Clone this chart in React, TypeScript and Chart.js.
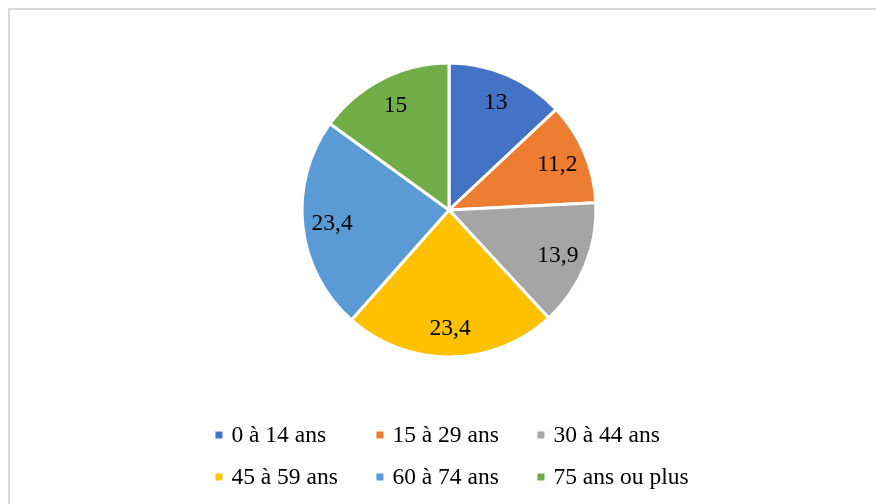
import React, { useEffect, useRef } from "react";
import { Chart, registerables } from "chart.js";

Chart.register(...registerables);

const categories: string[] = [
  "0 à 14 ans",
  "15 à 29 ans",
  "30 à 44 ans",
  "45 à 59 ans",
  "60 à 74 ans",
  "75 ans ou plus",
];
const values: number[] = [13, 11.2, 13.9, 23.4, 23.4, 15];
const colors: string[] = ["#4472C4", "#ED7D31", "#A5A5A5", "#FFC000", "#5B9BD5", "#70AD47"];

const FONT = "23.5px 'Liberation Serif', 'Times New Roman', serif";

const framePlugin = {
  id: "frame",
  beforeDraw(chart: any) {
    const ctx = chart.ctx;
    ctx.save();
    ctx.fillStyle = "#ffffff";
    ctx.fillRect(0, 0, chart.width, chart.height);
    ctx.strokeStyle = "#d9d9d9";
    ctx.lineWidth = 2;
    ctx.beginPath();
    ctx.moveTo(9, chart.height);
    ctx.lineTo(9, 9);
    ctx.lineTo(chart.width, 9);
    ctx.stroke();
    ctx.restore();
  },
};

const labelPlugin = {
  id: "sliceLabels",
  afterDatasetsDraw(chart: any) {
    const ctx = chart.ctx;
    const meta = chart.getDatasetMeta(0);
    ctx.save();
    ctx.font = FONT;
    ctx.fillStyle = "#000000";
    ctx.textAlign = "center";
    ctx.textBaseline = "middle";
    meta.data.forEach((arc: any, i: number) => {
      const { x, y, startAngle, endAngle, outerRadius } = arc.getProps(
        ["x", "y", "startAngle", "endAngle", "outerRadius"],
        true
      );
      const mid = (startAngle + endAngle) / 2;
      const r = outerRadius * 0.8;
      const txt = String(values[i]).replace(".", ",");
      ctx.fillText(txt, x + Math.cos(mid) * r, y + Math.sin(mid) * r + 1);
    });
    ctx.restore();
  },
};

const gridLegendPlugin = {
  id: "gridLegend",
  afterDraw(chart: any) {
    const ctx = chart.ctx;
    const meta = chart.getDatasetMeta(0);
    const cx = meta.data[0] ? meta.data[0].x : chart.width / 2;
    ctx.save();
    ctx.font = FONT;
    const widths = categories.map((c) => ctx.measureText(c).width);
    const maxW = Math.max(...widths);
    const cols = 3;
    const colW = 161;
    const boxGap = 16;
    const total = (cols - 1) * colW + boxGap + maxW;
    const startX = cx - total / 2 + 3;
    const rowY = [435, 477];
    ctx.textBaseline = "middle";
    ctx.textAlign = "left";
    categories.forEach((c, i) => {
      const col = i % cols;
      const row = Math.floor(i / cols);
      const x = startX + col * colW;
      const y = rowY[row];
      ctx.fillStyle = colors[i];
      ctx.fillRect(x, y - 3.5, 7, 7);
      ctx.fillStyle = "#000000";
      ctx.fillText(c, x + boxGap, y + 1);
    });
    ctx.restore();
  },
};

export default function App() {
  const ref = useRef<HTMLCanvasElement | null>(null);
  useEffect(() => {
    document.body.style.margin = "0";
    document.documentElement.style.overflow = "hidden";
    document.body.style.overflow = "hidden";
    if (!ref.current) return;
    const chart = new Chart(ref.current, {
      type: "pie",
      data: {
        labels: categories,
        datasets: [
          {
            data: values,
            backgroundColor: colors,
            borderColor: "#ffffff",
            borderWidth: 3,
            radius: 147,
          } as any,
        ],
      },
      options: {
        responsive: false,
        animation: false,
        layout: { padding: { top: 10, bottom: 94, left: 22, right: 0 } },
        plugins: {
          legend: { display: false },
          tooltip: { enabled: false },
        },
      },
      plugins: [framePlugin, labelPlugin, gridLegendPlugin],
    });
    return () => chart.destroy();
  }, []);
  return (
    <canvas ref={ref} width={876} height={504} style={{ display: "block", width: 876, height: 504 }} />
  );
}
